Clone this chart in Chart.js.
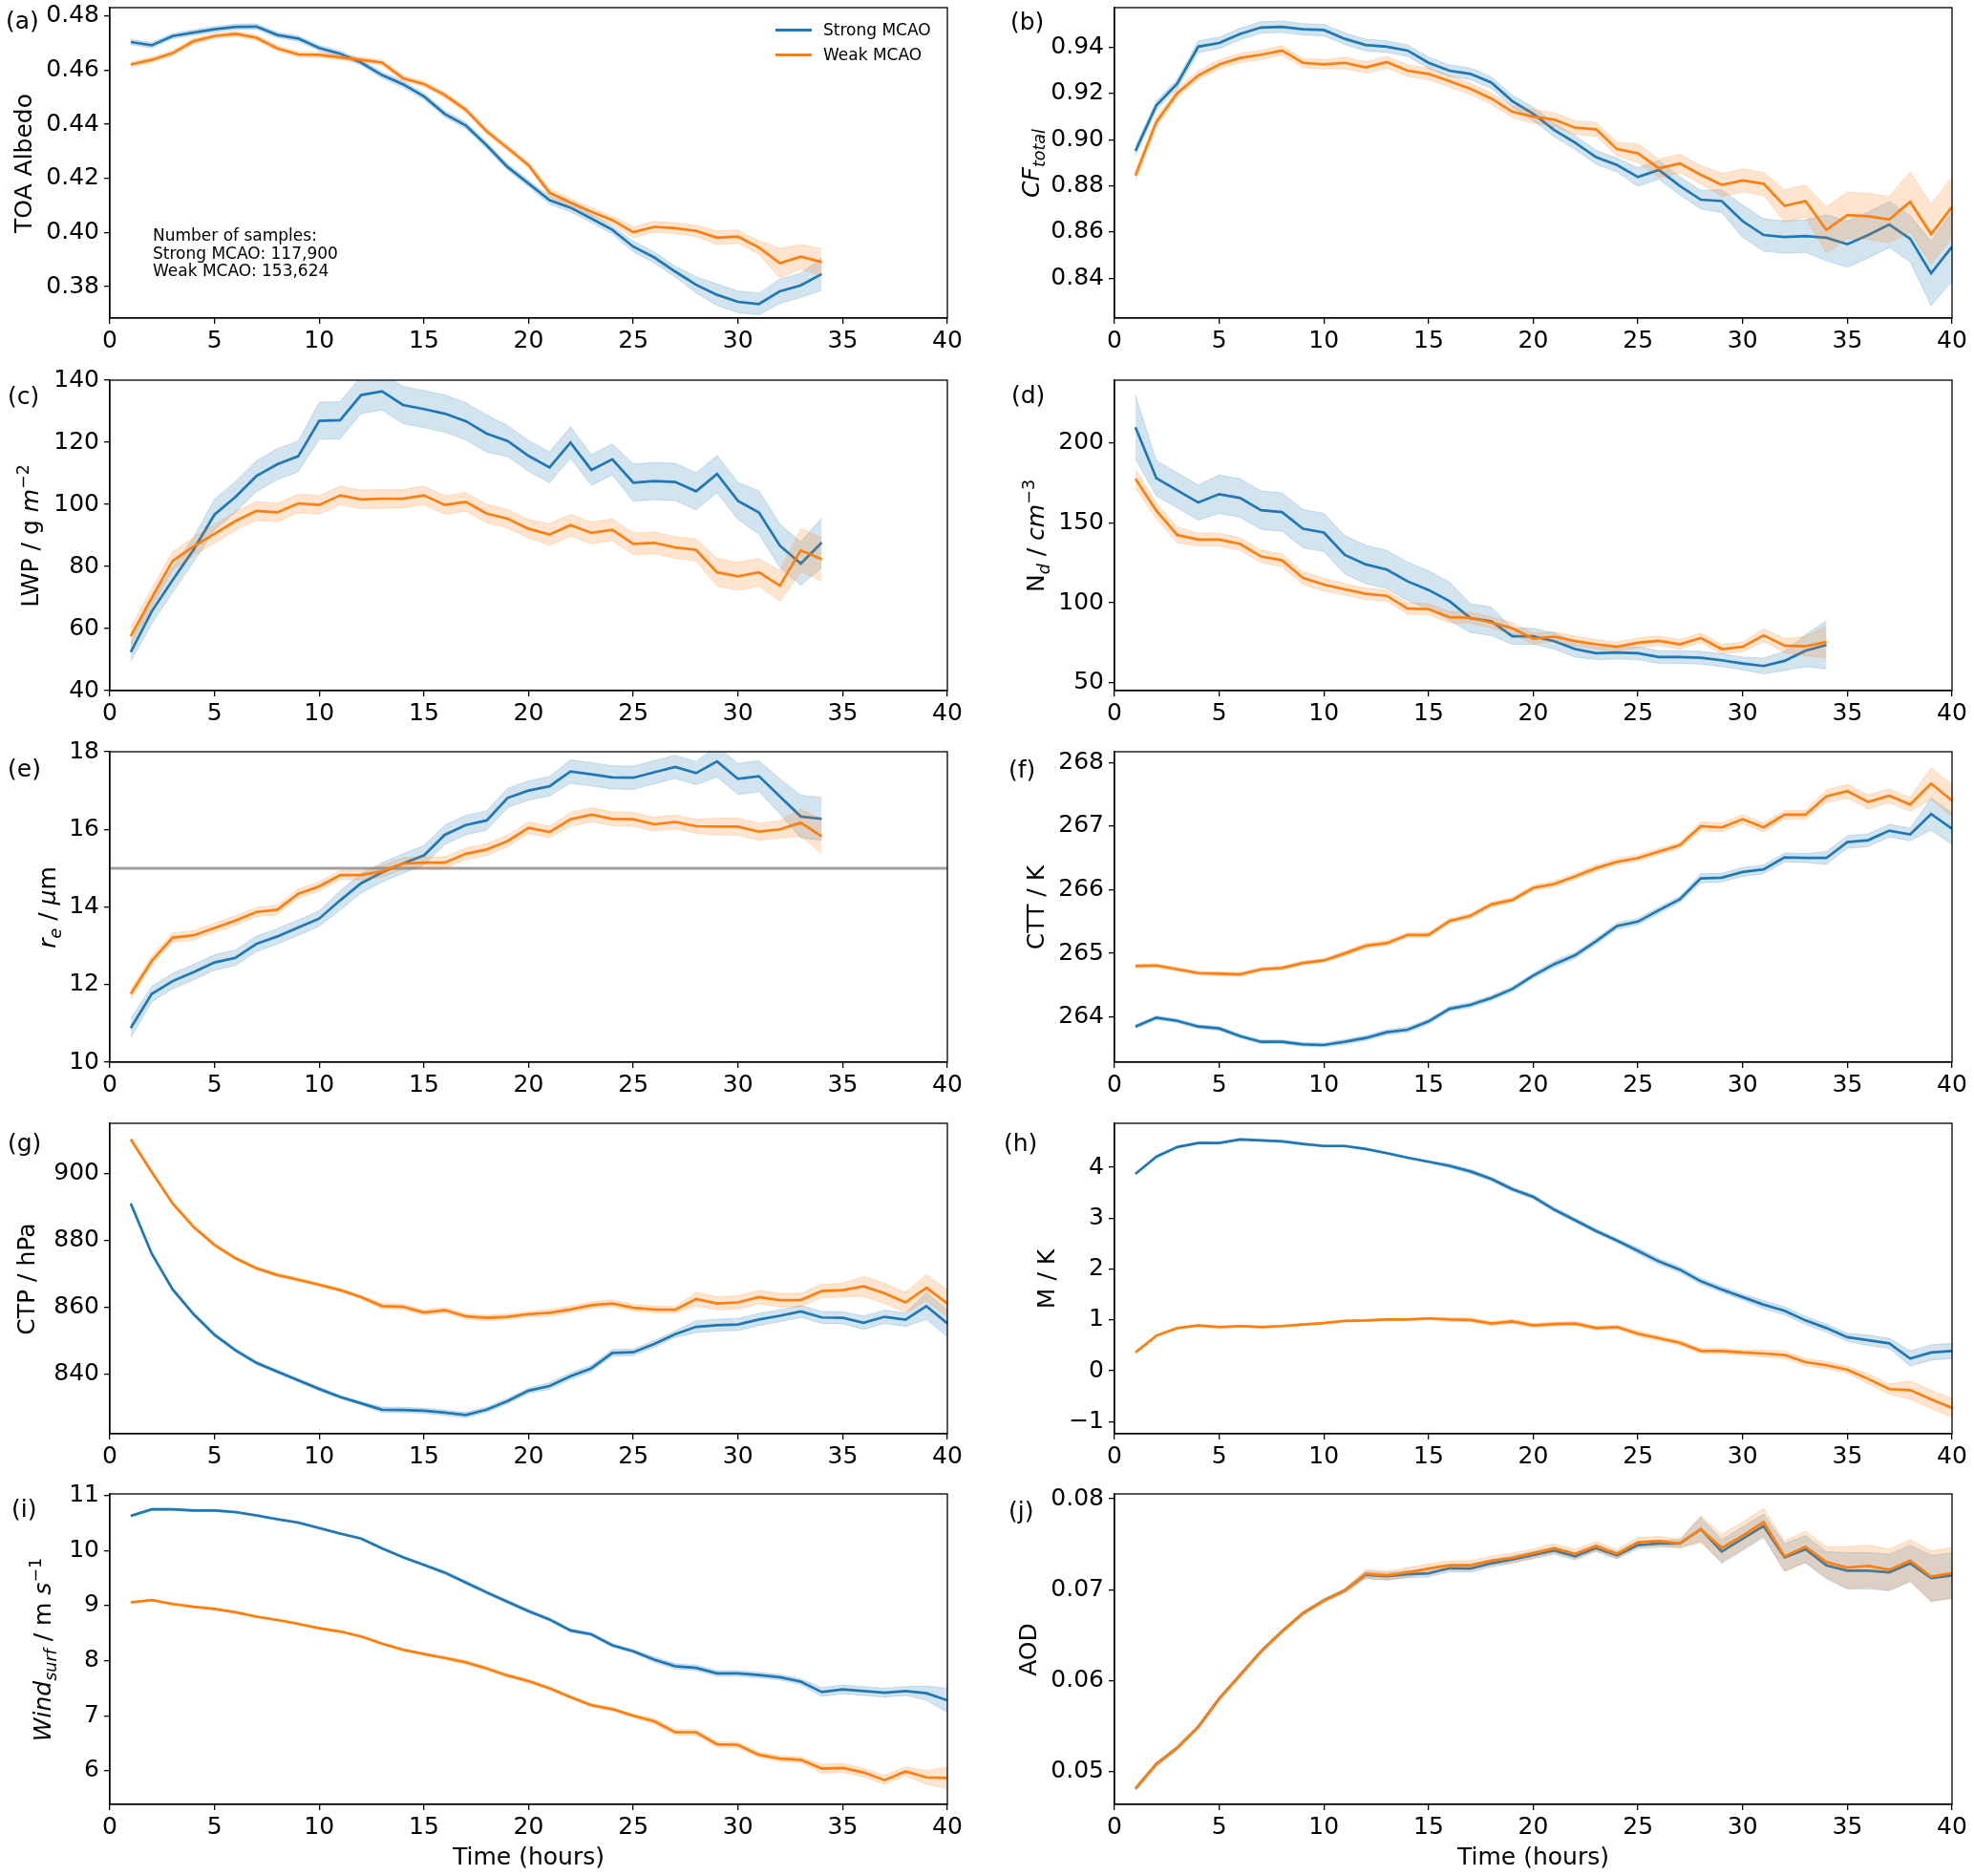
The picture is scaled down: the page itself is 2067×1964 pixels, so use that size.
<!DOCTYPE html>
<html>
<head>
<meta charset="utf-8">
<script src="https://cdn.jsdelivr.net/npm/chart.js@4.4.0/dist/chart.umd.min.js"></script>
<style>
body { margin:0; background:#fff; width:2067px; height:1964px; position:relative; overflow:hidden; font-family:"DejaVu Sans", sans-serif; color:#000; }
.plab { position:absolute; font-size:25px; line-height:30px; white-space:nowrap; }
.yt { position:absolute; font-size:25px; white-space:nowrap; transform:translate(-50%,-50%) rotate(-90deg); line-height:30px; }
.yt sub, .yt sup { font-size:70%; line-height:0; position:relative; vertical-align:baseline; }
.yt sub { top:0.32em; }
.yt sup { top:-0.55em; }
.note { position:absolute; font-size:17px; line-height:18.5px; white-space:nowrap; }
.leg { position:absolute; font-size:17px; line-height:20px; white-space:nowrap; }
.leg span.ln { display:inline-block; width:38px; height:3px; vertical-align:middle; margin-right:12px; position:relative; top:-1px; }
</style>
</head>
<body>
<script>
// hours after the start of the outbreak
var hours34 = [1,2,3,4,5,6,7,8,9,10,11,12,13,14,15,16,17,18,19,20,21,22,23,24,25,26,27,28,29,30,31,32,33,34];
var hours40 = [1,2,3,4,5,6,7,8,9,10,11,12,13,14,15,16,17,18,19,20,21,22,23,24,25,26,27,28,29,30,31,32,33,34,35,36,37,38,39,40];
var xTicks = [0,5,10,15,20,25,30,35,40];

// (a) TOA albedo
var albedoStrong = [0.4704,0.4692,0.4726,0.4739,0.4751,0.4760,0.4761,0.4730,0.4717,0.4682,0.4661,0.4628,0.4582,0.4548,0.4503,0.4438,0.4396,0.4322,0.4242,0.4181,0.4120,0.4092,0.4052,0.4010,0.3948,0.3908,0.3856,0.3807,0.3770,0.3744,0.3736,0.3783,0.3805,0.3847];
var albedoStrongErr = [0.001,0.001,0.001,0.001,0.001,0.001,0.001,0.001,0.001,0.001,0.001,0.001,0.0012,0.0012,0.0012,0.0012,0.0012,0.0012,0.0012,0.0012,0.0015,0.0015,0.0015,0.0015,0.002,0.002,0.002,0.003,0.004,0.004,0.004,0.0045,0.0045,0.006];
var albedoWeak = [0.4621,0.4638,0.4663,0.4707,0.4726,0.4734,0.4720,0.4680,0.4658,0.4657,0.4647,0.4638,0.4628,0.4570,0.4549,0.4508,0.4454,0.4374,0.4312,0.4249,0.4147,0.4111,0.4077,0.4046,0.4001,0.4021,0.4016,0.4006,0.3981,0.3985,0.3945,0.3887,0.3911,0.3891];
var albedoWeakErr = [0.001,0.001,0.001,0.001,0.001,0.001,0.001,0.001,0.001,0.001,0.001,0.001,0.001,0.001,0.001,0.001,0.001,0.001,0.001,0.001,0.0015,0.0015,0.0015,0.0015,0.002,0.002,0.002,0.002,0.0025,0.0025,0.0025,0.0055,0.0045,0.005];
var albedoTicks = [0.38,0.40,0.42,0.44,0.46,0.48];

// (b) total cloud fraction
var cfStrong = [0.8951,0.9149,0.9243,0.9403,0.9419,0.9458,0.9486,0.9489,0.9478,0.9475,0.9437,0.9410,0.9403,0.9386,0.9333,0.9299,0.9285,0.9247,0.9167,0.9112,0.9042,0.8987,0.8924,0.8890,0.8838,0.8869,0.8800,0.8740,0.8734,0.8647,0.8587,0.8578,0.8582,0.8575,0.8547,0.8587,0.8632,0.8571,0.8421,0.8536];
var cfStrongErr = [0.002,0.002,0.002,0.0025,0.0025,0.0025,0.0025,0.0025,0.0025,0.0025,0.0025,0.0025,0.0025,0.0025,0.0025,0.0025,0.0025,0.0025,0.0025,0.003,0.003,0.003,0.003,0.003,0.004,0.004,0.004,0.004,0.005,0.007,0.007,0.007,0.007,0.01,0.01,0.01,0.01,0.01,0.014,0.015];
var cfWeak = [0.8845,0.9077,0.9202,0.9278,0.9326,0.9354,0.9368,0.9386,0.9333,0.9326,0.9333,0.9313,0.9336,0.9299,0.9285,0.9253,0.9220,0.9178,0.9121,0.9100,0.9087,0.9052,0.9045,0.8959,0.8941,0.8876,0.8897,0.8848,0.8804,0.8823,0.8809,0.8713,0.8734,0.8609,0.8673,0.8668,0.8654,0.8731,0.8591,0.8709];
var cfWeakErr = [0.002,0.002,0.002,0.002,0.002,0.002,0.002,0.002,0.002,0.002,0.0025,0.0025,0.0025,0.0025,0.0025,0.0025,0.0025,0.0025,0.0025,0.003,0.003,0.003,0.003,0.003,0.004,0.004,0.004,0.004,0.005,0.005,0.005,0.007,0.007,0.01,0.01,0.01,0.01,0.013,0.013,0.013];
var cfTicks = [0.84,0.86,0.88,0.90,0.92,0.94];

// (c) liquid water path
var lwpStrong = [52.4,65.5,75.6,85.4,96.7,102.4,109.1,112.9,115.5,126.9,127.1,135.2,136.4,132.0,130.7,129.2,126.8,122.8,120.4,115.6,111.9,119.9,111.1,114.5,107.0,107.5,107.2,104.2,109.8,101.1,97.4,86.7,80.9,87.7];
var lwpStrongErr = [3,4,4,4,5,5,5,5,5,6,6,6,6,6,6,6,6,6,5,5,5,5,5,5,6,6,6,6,6,6,7,7,7,8];
var lwpWeak = [57.5,69.9,81.8,86.4,90.5,94.6,97.9,97.4,100.3,99.8,102.9,101.6,101.8,101.8,102.9,99.8,100.8,97.0,95.4,92.1,90.3,93.3,90.8,91.8,87.3,87.6,86.1,85.3,78.1,76.8,78.1,73.8,85.2,82.3];
var lwpWeakErr = [3,3,3,3,3,3,3,3,3,3,3,3,3,3,3,3,3,3,3,3,3.5,3.5,3.5,3.5,3.5,3.5,3.5,3.5,4.5,4.5,4.5,5,7,7];
var lwpTicks = [40,60,80,100,120,140];

// (d) droplet number
var ndStrong = [210,178,170.4,162.8,168,165.6,158,156.8,146.4,144,130,124,120.8,113.4,108,101,90.4,88.4,79,79,76,71,68.4,68.8,68.4,66,66,65.6,64,62,60.4,63.6,70,73.6];
var ndStrongErr = [20,11,11,11,12,12,12,12,12,12,12,12,12,12,12,12,9,9,5,5,5,5,4,4,4,4,4,4,4,4,5,6,10,15];
var ndWeak = [177.6,157.6,142.4,139.6,139.6,136.8,129,126.6,115.6,111.4,108.4,105.6,104.4,96.4,96,91,90.6,87.6,84,77.6,78.8,76,74,72.4,75,76.2,74,78,71,72.4,79.6,73.2,72.8,75.4];
var ndWeakErr = [6,5,5,4,4,4,4,4,4,4,3.5,3.5,3.5,3.5,3.5,3.5,3.5,3.5,3.5,3.5,3,3,3,3,3,3,3,3,3,3,4,4.5,6,10];
var ndTicks = [50,100,150,200];

// (e) effective radius
var reStrong = [10.88,11.76,12.09,12.32,12.57,12.69,13.05,13.24,13.47,13.70,14.17,14.61,14.89,15.12,15.33,15.86,16.11,16.23,16.81,17.00,17.11,17.49,17.42,17.34,17.33,17.47,17.61,17.45,17.75,17.30,17.37,16.85,16.33,16.27];
var reStrongErr = [0.25,0.2,0.2,0.2,0.2,0.2,0.2,0.2,0.2,0.2,0.25,0.25,0.25,0.25,0.25,0.25,0.25,0.25,0.25,0.25,0.25,0.3,0.3,0.3,0.3,0.3,0.3,0.3,0.4,0.4,0.4,0.45,0.55,0.55];
var reWeak = [11.76,12.61,13.21,13.27,13.46,13.65,13.87,13.93,14.34,14.53,14.82,14.82,14.92,15.12,15.14,15.14,15.37,15.48,15.70,16.04,15.93,16.26,16.38,16.27,16.26,16.13,16.19,16.08,16.07,16.07,15.94,16.00,16.17,15.82];
var reWeakErr = [0.12,0.12,0.12,0.12,0.12,0.12,0.12,0.12,0.12,0.12,0.12,0.12,0.15,0.15,0.15,0.15,0.15,0.15,0.15,0.15,0.15,0.18,0.18,0.18,0.18,0.18,0.18,0.18,0.22,0.22,0.22,0.22,0.35,0.45];
var reTicks = [10,12,14,16,18];
var reThreshold = 15;

// (f) cloud top temperature
var cttStrong = [263.85,263.99,263.94,263.85,263.82,263.70,263.61,263.61,263.57,263.56,263.61,263.67,263.76,263.80,263.93,264.13,264.19,264.30,264.44,264.65,264.83,264.97,265.19,265.43,265.50,265.68,265.85,266.18,266.19,266.28,266.32,266.51,266.50,266.50,266.75,266.78,266.93,266.87,267.19,266.96];
var cttStrongErr = [0.03,0.03,0.03,0.03,0.03,0.03,0.03,0.03,0.03,0.03,0.04,0.04,0.04,0.04,0.04,0.04,0.04,0.04,0.04,0.04,0.05,0.05,0.05,0.05,0.05,0.05,0.05,0.07,0.07,0.07,0.07,0.07,0.07,0.1,0.1,0.1,0.1,0.1,0.25,0.25];
var cttWeak = [264.80,264.81,264.75,264.69,264.68,264.67,264.75,264.77,264.85,264.89,265.00,265.12,265.16,265.29,265.29,265.51,265.59,265.77,265.84,266.03,266.09,266.21,266.34,266.44,266.50,266.60,266.70,267.00,266.98,267.11,266.98,267.18,267.18,267.47,267.55,267.38,267.48,267.34,267.67,267.40];
var cttWeakErr = [0.03,0.03,0.03,0.03,0.03,0.03,0.03,0.03,0.03,0.03,0.04,0.04,0.04,0.04,0.04,0.04,0.04,0.04,0.04,0.04,0.05,0.05,0.05,0.05,0.05,0.05,0.05,0.07,0.07,0.07,0.07,0.07,0.07,0.1,0.11,0.11,0.11,0.11,0.25,0.25];
var cttTicks = [264,265,266,267,268];

// (g) cloud top pressure
var ctpStrong = [891.1,876.1,865.4,858.0,851.8,847.2,843.4,840.8,838.2,835.6,833.2,831.3,829.4,829.3,829.1,828.5,827.8,829.4,832.0,835.1,836.5,839.4,841.8,846.4,846.6,849.1,852.0,854.2,854.7,854.9,856.4,857.5,858.8,857.0,856.9,855.4,857.2,856.3,860.4,855.2];
var ctpStrongErr = [0.5,0.5,0.5,0.5,0.5,0.5,0.5,0.5,0.5,0.5,0.5,0.5,0.8,0.8,0.8,0.8,0.8,0.8,0.8,0.8,1,1,1,1,1,1,1,1.8,1.8,1.8,1.8,1.8,1.8,1.8,1.8,2,2,2,4,4];
var ctpWeak = [910.3,900.5,891.1,884.1,878.7,874.7,871.7,869.7,868.3,866.8,865.2,863.1,860.4,860.2,858.5,859.2,857.3,856.9,857.2,858.0,858.4,859.4,860.7,861.2,859.9,859.4,859.3,862.5,861.2,861.5,863.1,862.2,862.2,864.9,865.2,866.3,864.2,861.5,865.9,861.2];
var ctpWeakErr = [0.5,0.5,0.5,0.5,0.5,0.5,0.5,0.5,0.5,0.5,0.5,0.5,0.8,0.8,0.8,0.8,0.8,0.8,0.8,0.8,1,1,1,1,1,1,1,2,2,2,2,2,2,2,2,3,3,3,4,4];
var ctpTicks = [840,860,880,900];

// (h) MCAO index
var mStrong = [3.87,4.21,4.40,4.48,4.48,4.55,4.53,4.51,4.46,4.42,4.42,4.36,4.28,4.19,4.11,4.03,3.92,3.77,3.57,3.42,3.17,2.96,2.75,2.56,2.36,2.15,1.99,1.76,1.60,1.45,1.30,1.18,0.99,0.84,0.66,0.60,0.54,0.24,0.36,0.39];
var mStrongErr = [0.02,0.02,0.02,0.02,0.02,0.02,0.02,0.02,0.02,0.02,0.02,0.02,0.02,0.02,0.02,0.04,0.04,0.04,0.04,0.04,0.04,0.04,0.04,0.04,0.06,0.06,0.06,0.06,0.06,0.06,0.08,0.08,0.08,0.08,0.08,0.1,0.1,0.15,0.15,0.15];
var mWeak = [0.36,0.69,0.84,0.89,0.86,0.88,0.86,0.88,0.91,0.94,0.98,0.99,1.01,1.01,1.03,1.01,1.00,0.93,0.97,0.89,0.92,0.93,0.84,0.86,0.73,0.64,0.55,0.39,0.39,0.36,0.34,0.31,0.17,0.11,0.02,-0.16,-0.36,-0.38,-0.56,-0.73];
var mWeakErr = [0.02,0.02,0.02,0.02,0.02,0.02,0.02,0.02,0.02,0.02,0.02,0.02,0.02,0.02,0.02,0.04,0.04,0.04,0.04,0.04,0.04,0.04,0.04,0.04,0.05,0.05,0.05,0.05,0.05,0.05,0.07,0.07,0.07,0.07,0.07,0.1,0.1,0.18,0.18,0.18];
var mTicks = [-1,0,1,2,3,4];

// (i) surface wind
var windStrong = [10.63,10.75,10.75,10.73,10.73,10.70,10.64,10.57,10.51,10.41,10.31,10.22,10.04,9.88,9.74,9.60,9.42,9.24,9.07,8.90,8.75,8.55,8.48,8.28,8.17,8.02,7.90,7.87,7.77,7.77,7.74,7.70,7.62,7.43,7.48,7.45,7.42,7.45,7.41,7.28];
var windStrongErr = [0.02,0.02,0.02,0.02,0.02,0.02,0.02,0.02,0.02,0.02,0.02,0.02,0.02,0.02,0.02,0.03,0.03,0.03,0.03,0.03,0.03,0.03,0.03,0.03,0.03,0.05,0.05,0.05,0.05,0.05,0.05,0.05,0.05,0.08,0.08,0.08,0.08,0.08,0.13,0.22];
var windWeak = [9.06,9.10,9.03,8.98,8.94,8.88,8.80,8.74,8.67,8.59,8.53,8.44,8.31,8.20,8.12,8.05,7.97,7.86,7.73,7.63,7.50,7.34,7.19,7.12,7.00,6.90,6.70,6.70,6.48,6.47,6.29,6.22,6.20,6.04,6.05,5.97,5.83,5.99,5.88,5.87];
var windWeakErr = [0.02,0.02,0.02,0.02,0.02,0.02,0.02,0.02,0.02,0.02,0.02,0.02,0.02,0.02,0.02,0.03,0.03,0.03,0.03,0.03,0.03,0.03,0.03,0.03,0.03,0.05,0.05,0.05,0.05,0.05,0.05,0.05,0.05,0.08,0.08,0.08,0.08,0.08,0.12,0.2];
var windTicks = [6,7,8,9,10,11];

// (j) aerosol optical depth
var aodStrong = [0.0481,0.0508,0.0526,0.0549,0.0580,0.0606,0.0632,0.0654,0.0674,0.0688,0.0699,0.07162,0.07148,0.07169,0.0718,0.07236,0.07232,0.07289,0.07331,0.0738,0.0743,0.07366,0.07458,0.07377,0.0749,0.07507,0.07507,0.07665,0.07419,0.0756,0.07701,0.07356,0.07444,0.07268,0.07208,0.07208,0.0719,0.07289,0.07127,0.07155];
var aodStrongErr = [0.0002,0.0002,0.0002,0.0002,0.0002,0.0002,0.0002,0.0002,0.0002,0.0002,0.0002,0.0004,0.0004,0.0004,0.0004,0.0004,0.0004,0.0004,0.0004,0.0004,0.0004,0.0004,0.0004,0.0004,0.0004,0.0004,0.0004,0.0013,0.0013,0.0013,0.0013,0.0015,0.0015,0.0015,0.002,0.002,0.002,0.002,0.0025,0.0025];
var aodWeak = [0.0481,0.0508,0.0526,0.0549,0.0580,0.0606,0.0632,0.0654,0.0674,0.0688,0.0699,0.07173,0.07155,0.0719,0.07232,0.07268,0.07268,0.0732,0.07349,0.074,0.07455,0.07394,0.07479,0.07394,0.07521,0.07535,0.07507,0.07665,0.07458,0.07595,0.07743,0.07366,0.07472,0.07303,0.07243,0.0726,0.07218,0.0732,0.07144,0.07183];
var aodWeakErr = [0.0002,0.0002,0.0002,0.0002,0.0002,0.0002,0.0002,0.0002,0.0002,0.0002,0.0002,0.0005,0.0005,0.0005,0.0005,0.0005,0.0005,0.0005,0.0005,0.0005,0.0005,0.0005,0.0005,0.0005,0.0005,0.0005,0.0005,0.0015,0.0015,0.0015,0.0015,0.0017,0.0017,0.0017,0.0023,0.0023,0.0023,0.0023,0.0028,0.0028];
var aodTicks = [0.05,0.06,0.07,0.08];

var BLUE = '#1f77b4', ORANGE = '#ff7f0e';
var BLUE_BAND = 'rgba(31,119,180,0.2)', ORANGE_BAND = 'rgba(255,127,14,0.2)';

// layout (pixels)
var colLeft = [115, 1167];
var rowTop = [8, 398, 787, 1176, 1564];
var PLOT_W = 877, PLOT_H = 325, Y_W = 115, PAD_T = 20, PAD_R = 22;
var tickFont = { family: 'DejaVu Sans', size: 25 };

var panels = [
  { tag:'(a)', col:0, row:0, x:hours34, s:albedoStrong, se:albedoStrongErr, w:albedoWeak, we:albedoWeakErr, min:0.3684, max:0.4831, ticks:albedoTicks, dec:2,
    title:'TOA Albedo', tx:25, lx:6, ly:22 },
  { tag:'(b)', col:1, row:0, x:hours40, s:cfStrong, se:cfStrongErr, w:cfWeak, we:cfWeakErr, min:0.8227, max:0.9572, ticks:cfTicks, dec:2,
    title:'<i>CF</i><sub><i>total</i></sub>', tx:1080, lx:1058, ly:23 },
  { tag:'(c)', col:0, row:1, x:hours34, s:lwpStrong, se:lwpStrongErr, w:lwpWeak, we:lwpWeakErr, min:40, max:140, ticks:lwpTicks, dec:0,
    title:'LWP / g <i>m</i><sup>\u22122</sup>', tx:32, lx:8, ly:415 },
  { tag:'(d)', col:1, row:1, x:hours34, s:ndStrong, se:ndStrongErr, w:ndWeak, we:ndWeakErr, min:45, max:239.4, ticks:ndTicks, dec:0,
    title:'N<sub><i>d</i></sub> / <i>cm</i><sup>\u22123</sup>', tx:1085, lx:1059, ly:414 },
  { tag:'(e)', col:0, row:2, x:hours34, s:reStrong, se:reStrongErr, w:reWeak, we:reWeakErr, min:10, max:18, ticks:reTicks, dec:0,
    title:'<i>r</i><sub><i>e</i></sub> / <i>\u03bc</i>m', tx:50, lx:8, ly:805, hline:reThreshold },
  { tag:'(f)', col:1, row:2, x:hours40, s:cttStrong, se:cttStrongErr, w:cttWeak, we:cttWeakErr, min:263.29, max:268.17, ticks:cttTicks, dec:0,
    title:'CTT / K', tx:1085, lx:1056, ly:806 },
  { tag:'(g)', col:0, row:3, x:hours40, s:ctpStrong, se:ctpStrongErr, w:ctpWeak, we:ctpWeakErr, min:822.2, max:915.1, ticks:ctpTicks, dec:0,
    title:'CTP / hPa', tx:28, lx:8, ly:1197 },
  { tag:'(h)', col:1, row:3, x:hours40, s:mStrong, se:mStrongErr, w:mWeak, we:mWeakErr, min:-1.238, max:4.866, ticks:mTicks, dec:0,
    title:'M / K', tx:1096, lx:1051, ly:1197 },
  { tag:'(i)', col:0, row:4, x:hours40, s:windStrong, se:windStrongErr, w:windWeak, we:windWeakErr, min:5.39, max:11.03, ticks:windTicks, dec:0,
    title:'<i>Wind</i><sub><i>surf</i></sub> / m <i>s</i><sup>\u22121</sup>', tx:45, lx:12, ly:1580 },
  { tag:'(j)', col:1, row:4, x:hours40, s:aodStrong, se:aodStrongErr, w:aodWeak, we:aodWeakErr, min:0.04637, max:0.08053, ticks:aodTicks, dec:2,
    title:'AOD', tx:1077, lx:1056, ly:1582 }
];

function pts(x, m) { return x.map(function (h, i) { return { x: h, y: m[i] }; }); }
function band(x, m, e, sgn) { return x.map(function (h, i) { return { x: h, y: m[i] + sgn * e[i] }; }); }

// full box around the axes, like matplotlib spines
var framePlugin = {
  id: 'frame',
  afterDraw: function (chart) {
    var a = chart.chartArea, ctx = chart.ctx;
    ctx.save();
    ctx.strokeStyle = '#000';
    ctx.lineWidth = 1.3;
    ctx.strokeRect(a.left, a.top, a.right - a.left, a.bottom - a.top);
    ctx.restore();
  }
};

var hlinePlugin = {
  id: 'hline',
  beforeDatasetsDraw: function (chart, args, opts) {
    if (opts.value === null || opts.value === undefined) return;
    var a = chart.chartArea, ctx = chart.ctx;
    var y = chart.scales.y.getPixelForValue(opts.value);
    ctx.save();
    ctx.strokeStyle = 'rgba(128,128,128,0.75)';
    ctx.lineWidth = 3;
    ctx.beginPath();
    ctx.moveTo(a.left, y);
    ctx.lineTo(a.right, y);
    ctx.stroke();
    ctx.restore();
  }
};

function addDiv(cls, html, css) {
  var d = document.createElement('div');
  d.className = cls;
  d.innerHTML = html;
  d.style.cssText = css;
  document.body.appendChild(d);
  return d;
}

panels.forEach(function (p) {
  var bottomRow = p.row === 4;
  var xh = bottomRow ? 75 : 45;
  var W = Y_W + PLOT_W + PAD_R, H = PAD_T + PLOT_H + xh;
  var cv = document.createElement('canvas');
  cv.width = W; cv.height = H;
  cv.style.cssText = 'position:absolute;left:' + (colLeft[p.col] - Y_W) + 'px;top:' + (rowTop[p.row] - PAD_T) + 'px;width:' + W + 'px;height:' + H + 'px';
  document.body.appendChild(cv);

  var axisGrid = { display: true, drawOnChartArea: false, drawTicks: true, tickLength: 6, color: '#000', lineWidth: 1.3 };
  var axisBorder = { display: true, color: '#000', width: 1.3 };

  new Chart(cv, {
    type: 'line',
    data: {
      datasets: [
        { data: band(p.x, p.s, p.se, -1), borderColor: BLUE_BAND, borderWidth: 1, backgroundColor: BLUE_BAND, fill: false, order: 3 },
        { data: band(p.x, p.s, p.se, 1), borderColor: BLUE_BAND, borderWidth: 1, backgroundColor: BLUE_BAND, fill: '-1', order: 3 },
        { data: pts(p.x, p.s), borderColor: BLUE, borderWidth: 2.7, fill: false, order: 2 },
        { data: band(p.x, p.w, p.we, -1), borderColor: ORANGE_BAND, borderWidth: 1, backgroundColor: ORANGE_BAND, fill: false, order: 1 },
        { data: band(p.x, p.w, p.we, 1), borderColor: ORANGE_BAND, borderWidth: 1, backgroundColor: ORANGE_BAND, fill: '-1', order: 1 },
        { data: pts(p.x, p.w), borderColor: ORANGE, borderWidth: 2.7, fill: false, order: 0 }
      ]
    },
    options: {
      responsive: false,
      animation: false,
      devicePixelRatio: 1,
      layout: { padding: { top: PAD_T, right: PAD_R, left: 0, bottom: 0 } },
      elements: { point: { radius: 0, hoverRadius: 0 }, line: { tension: 0 } },
      plugins: {
        legend: { display: false },
        tooltip: { enabled: false },
        hline: { value: p.hline === undefined ? null : p.hline }
      },
      scales: {
        x: {
          type: 'linear', min: 0, max: 40,
          afterBuildTicks: function (s) { s.ticks = xTicks.map(function (v) { return { value: v }; }); },
          afterFit: function (s) { s.height = xh; },
          ticks: { font: tickFont, color: '#000', padding: 3, maxRotation: 0, autoSkip: false, callback: function (v) { return String(v); } },
          grid: axisGrid,
          border: axisBorder,
          title: bottomRow ? { display: true, text: 'Time (hours)', font: tickFont, color: '#000', padding: { top: 0, bottom: 4 } } : { display: false }
        },
        y: {
          type: 'linear', min: p.min, max: p.max,
          afterBuildTicks: function (s) { s.ticks = p.ticks.map(function (v) { return { value: v }; }); },
          afterFit: function (s) { s.width = Y_W; },
          ticks: { font: tickFont, color: '#000', padding: 5, autoSkip: false, callback: function (v) { return v.toFixed(p.dec).replace('-', '\u2212'); } },
          grid: axisGrid,
          border: axisBorder
        }
      }
    },
    plugins: [framePlugin, hlinePlugin]
  });

  addDiv('plab', p.tag, 'left:' + p.lx + 'px;top:' + (p.ly - 15) + 'px');
  addDiv('yt', p.title, 'left:' + p.tx + 'px;top:' + (rowTop[p.row] + PLOT_H / 2) + 'px');
});

// legend of panel (a)
addDiv('leg', '<span class="ln" style="background:' + BLUE + '"></span>Strong MCAO', 'left:812px;top:21px');
addDiv('leg', '<span class="ln" style="background:' + ORANGE + '"></span>Weak MCAO', 'left:812px;top:47px');

// sample counts in panel (a)
addDiv('note', 'Number of samples:<br>Strong MCAO: 117,900<br>Weak MCAO: 153,624', 'left:160px;top:237px');
</script>
</body>
</html>
